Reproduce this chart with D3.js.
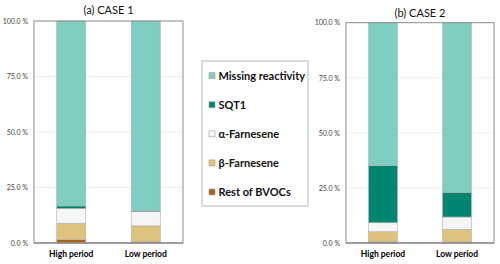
<!DOCTYPE html>
<html><head><meta charset="utf-8">
<script src="https://cdn.jsdelivr.net/npm/d3@7"></script>
<style>body{margin:0;background:#fff}svg{display:block}</style>
</head><body>
<svg id="c" width="500" height="264"></svg>
<script>
const categories = ["High period", "Low period"];
const seriesNames = ["Rest of BVOCs", "β-Farnesene", "α-Farnesene", "SQT1", "Missing reactivity"];
const seriesColors = ["#a6611a", "#dfc27d", "#f5f5f5", "#018571", "#80cdc1"];
const case1Rest = [1.5, 0.6];
const case1Beta = [7.4, 7.1];
const case1Alpha = [6.7, 6.4];
const case1SQT1 = [1.1, 0.4];
const case1Missing = [83.3, 85.5];
const case2Rest = [0.6, 0.5];
const case2Beta = [4.5, 5.7];
const case2Alpha = [4.1, 5.6];
const case2SQT1 = [25.9, 11.2];
const case2Missing = [64.9, 77.0];
const yTicks = [0, 25, 50, 75, 100];
const titles = ["(a) CASE 1", "(b) CASE 2"];
const legendOrder = ["Missing reactivity", "SQT1", "α-Farnesene", "β-Farnesene", "Rest of BVOCs"];

const svg = d3.select("#c");
const font = "Lato, 'Liberation Sans', sans-serif";
const color = d3.scaleOrdinal().domain(seriesNames).range(seriesColors);

function build(rest, beta, alpha, sqt, miss) {
  return categories.map((c, i) => ({cat: c, "Rest of BVOCs": rest[i], "β-Farnesene": beta[i], "α-Farnesene": alpha[i], "SQT1": sqt[i], "Missing reactivity": miss[i]}));
}
const panels = [
  {data: build(case1Rest, case1Beta, case1Alpha, case1SQT1, case1Missing), x0: 34, x1: 183, y0: 243, y1: 21, title: titles[0], ty: 14},
  {data: build(case2Rest, case2Beta, case2Alpha, case2SQT1, case2Missing), x0: 346, x1: 494, y0: 243, y1: 22.7, title: titles[1], ty: 17}
];

panels.forEach(p => {
  const g = svg.append("g");
  const x = d3.scaleBand().domain(categories).range([p.x0, p.x1]).paddingInner(0.61).paddingOuter(0.305);
  const y = d3.scaleLinear().domain([0, 100]).range([p.y0, p.y1]);
  g.selectAll("line.grid").data(yTicks.filter(t => t > 0 && t < 100)).join("line")
    .attr("x1", p.x0).attr("x2", p.x1).attr("y1", d => y(d)).attr("y2", d => y(d))
    .attr("stroke", "#ececec").attr("stroke-width", 1);
  const stack = d3.stack().keys(seriesNames)(p.data);
  stack.forEach(layer => {
    g.selectAll(null).data(layer).join("rect")
      .attr("x", d => x(d.data.cat)).attr("width", x.bandwidth())
      .attr("y", d => y(d[1])).attr("height", d => y(d[0]) - y(d[1]))
      .attr("fill", color(layer.key)).attr("stroke", "#b0b0b0").attr("stroke-width", 0.6);
  });
  g.append("rect").attr("x", p.x0).attr("y", p.y1).attr("width", p.x1 - p.x0).attr("height", p.y0 - p.y1)
    .attr("fill", "none").attr("stroke", "#8c8c8c").attr("stroke-width", 1);
  g.append("line").attr("x1", p.x0).attr("x2", p.x1).attr("y1", p.y0).attr("y2", p.y0).attr("stroke", "#909090").attr("stroke-width", 1.5);
  const ya = d3.axisLeft(y).tickValues(yTicks).tickSize(0).tickPadding(6).tickFormat(d => d3.format(".1f")(d) + " %");
  const yg = g.append("g").attr("transform", `translate(${p.x0},0)`).call(ya);
  yg.select(".domain").remove();
  yg.selectAll("text").attr("font-family", font).attr("font-size", 7).attr("fill", "#444");
  const xa = d3.axisBottom(x).tickSize(0).tickPadding(8);
  const xg = g.append("g").attr("transform", `translate(0,${p.y0})`).call(xa);
  xg.select(".domain").remove();
  xg.selectAll("text").attr("font-family", font).attr("font-size", 8.5).attr("font-weight", "bold").attr("fill", "#000");
  g.append("text").attr("x", (p.x0 + p.x1) / 2).attr("y", p.ty).attr("text-anchor", "middle")
    .attr("font-family", font).attr("font-size", 11).attr("fill", "#111").text(p.title);
});

const lg = svg.append("g");
lg.append("rect").attr("x", 202).attr("y", 61).attr("width", 106).attr("height", 145)
  .attr("fill", "#fff").attr("stroke", "#b8b8b8").attr("stroke-width", 1);
const ly = d3.scalePoint().domain(legendOrder).range([75.7, 192]);
legendOrder.forEach(k => {
  lg.append("rect").attr("x", 209).attr("y", ly(k) - 3).attr("width", 6).attr("height", 6)
    .attr("fill", color(k)).attr("stroke", "#a0a0a0").attr("stroke-width", 0.6);
  lg.append("text").attr("x", 218.5).attr("y", ly(k)).attr("dy", "0.35em")
    .attr("font-family", font).attr("font-size", 11).attr("font-weight", "bold").attr("fill", "#111").text(k);
});
</script>
</body></html>
